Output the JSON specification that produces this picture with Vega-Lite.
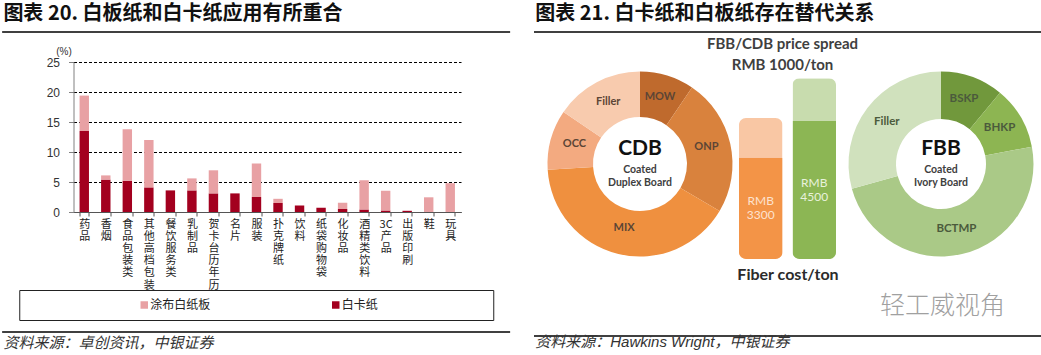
{
  "$schema": "https://vega.github.io/schema/vega-lite/v6.json",
  "padding": {"left": 1, "top": 4, "right": 0, "bottom": 0},
  "background": "white",
  "config": {
    "view": {"stroke": null},
    "font": "Noto Sans CJK SC"
  },
  "datasets": {
    "share": [
      {"cat": "药品", "type": "白卡纸", "pct": 13.5}, {"cat": "药品", "type": "涂布白纸板", "pct": 5.9},
      {"cat": "香烟", "type": "白卡纸", "pct": 5.4}, {"cat": "香烟", "type": "涂布白纸板", "pct": 0.7},
      {"cat": "食品包装类", "type": "白卡纸", "pct": 5.2}, {"cat": "食品包装类", "type": "涂布白纸板", "pct": 8.6},
      {"cat": "其他高档包装", "type": "白卡纸", "pct": 4.1}, {"cat": "其他高档包装", "type": "涂布白纸板", "pct": 7.9},
      {"cat": "餐饮服务类", "type": "白卡纸", "pct": 3.6}, {"cat": "餐饮服务类", "type": "涂布白纸板", "pct": 0},
      {"cat": "乳制品", "type": "白卡纸", "pct": 3.6}, {"cat": "乳制品", "type": "涂布白纸板", "pct": 2.0},
      {"cat": "贺卡台历年历", "type": "白卡纸", "pct": 3.1}, {"cat": "贺卡台历年历", "type": "涂布白纸板", "pct": 3.85},
      {"cat": "名片", "type": "白卡纸", "pct": 3.1}, {"cat": "名片", "type": "涂布白纸板", "pct": 0},
      {"cat": "服装", "type": "白卡纸", "pct": 2.5}, {"cat": "服装", "type": "涂布白纸板", "pct": 5.6},
      {"cat": "扑克牌纸", "type": "白卡纸", "pct": 1.5}, {"cat": "扑克牌纸", "type": "涂布白纸板", "pct": 0.7},
      {"cat": "饮料", "type": "白卡纸", "pct": 1.1}, {"cat": "饮料", "type": "涂布白纸板", "pct": 0},
      {"cat": "纸袋购物袋", "type": "白卡纸", "pct": 0.7}, {"cat": "纸袋购物袋", "type": "涂布白纸板", "pct": 0},
      {"cat": "化妆品", "type": "白卡纸", "pct": 0.5}, {"cat": "化妆品", "type": "涂布白纸板", "pct": 1.05},
      {"cat": "酒精类饮料", "type": "白卡纸", "pct": 0.4}, {"cat": "酒精类饮料", "type": "涂布白纸板", "pct": 4.9},
      {"cat": "3C产品", "type": "白卡纸", "pct": 0.25}, {"cat": "3C产品", "type": "涂布白纸板", "pct": 3.3},
      {"cat": "出版印刷", "type": "白卡纸", "pct": 0.2}, {"cat": "出版印刷", "type": "涂布白纸板", "pct": 0},
      {"cat": "鞋", "type": "白卡纸", "pct": 0}, {"cat": "鞋", "type": "涂布白纸板", "pct": 2.45},
      {"cat": "玩具", "type": "白卡纸", "pct": 0}, {"cat": "玩具", "type": "涂布白纸板", "pct": 4.8}
    ],
    "cdb": [
      {"board": "CDB", "part": "MOW", "share": 9.5, "k": 1},
      {"board": "CDB", "part": "ONP", "share": 24, "k": 2},
      {"board": "CDB", "part": "MIX", "share": 40.5, "k": 3},
      {"board": "CDB", "part": "OCC", "share": 10.5, "k": 4},
      {"board": "CDB", "part": "Filler", "share": 15.5, "k": 5}
    ],
    "fbb": [
      {"board": "FBB", "part": "BSKP", "share": 11, "k": 1},
      {"board": "FBB", "part": "BHKP", "share": 11, "k": 2},
      {"board": "FBB", "part": "BCTMP", "share": 48.7, "k": 3},
      {"board": "FBB", "part": "Filler", "share": 29.3, "k": 4}
    ],
    "boards": [
      {"board": "CDB", "desc": ["Coated", "Duplex Board"]},
      {"board": "FBB", "desc": ["Coated", "Ivory Board"]}
    ],
    "bars": [
      {"board": "CDB", "cost": 3300, "total": 4600},
      {"board": "FBB", "cost": 4500, "total": 5900}
    ]
  },
  "spacing": 22,
  "hconcat": [
    {
      "vconcat": [
        {
          "width": 508, "height": 16,
          "data": {"values": [{}]},
          "mark": {"type": "rule", "color": "#000", "strokeWidth": 1.5},
          "encoding": {"y": {"datum": 1, "type": "quantitative", "scale": {"domain": [0, 1]}, "axis": null}},
          "title": {"text": "图表 20. 白板纸和白卡纸应用有所重合", "anchor": "start", "font": "Noto Sans CJK SC", "fontSize": 20, "fontWeight": "bold", "color": "#111", "offset": 7, "dx": 2}
        },
        {
          "width": 508, "height": 150,
          "data": {"name": "share"},
          "mark": {"type": "bar"},
          "encoding": {
            "x": {
              "field": "cat", "type": "nominal",
              "scale": {
                "domain": ["药品", "香烟", "食品包装类", "其他高档包装", "餐饮服务类", "乳制品", "贺卡台历年历", "名片", "服装", "扑克牌纸", "饮料", "纸袋购物袋", "化妆品", "酒精类饮料", "3C产品", "出版印刷", "鞋", "玩具"],
                "range": [71, 458.5], "paddingInner": 0.563, "paddingOuter": 0.2815
              },
              "axis": {
                "title": null, "labelAngle": 0, "labelBaseline": "top", "labelAlign": "center",
                "labelExpr": "datum.label == '3C产品' ? ['3C', '产', '品'] : split(datum.label, '')",
                "labelFont": "Noto Sans CJK SC", "labelFontSize": 11, "labelLineHeight": 12.2, "labelColor": "#222",
                "labelPadding": 2, "tickBand": "extent", "tickSize": 4, "tickColor": "#555", "domainColor": "#555",
                "labelOverlap": false, "labelBound": false
              }
            },
            "y": {
              "field": "pct", "type": "quantitative", "stack": "zero",
              "scale": {"domain": [0, 25], "nice": false},
              "axis": {
                "values": [0, 5, 10, 15, 20, 25], "offset": -71,
                "grid": true, "gridDash": [3, 2], "gridColor": "#000", "gridWidth": 1,
                "domainColor": "#808080", "tickColor": "#808080", "tickSize": 5,
                "labelFont": "Liberation Sans", "labelFontSize": 12, "labelColor": "#333", "labelPadding": 9,
                "title": "(%)", "titleAngle": 0, "titleX": -10, "titleY": -11,
                "titleFont": "Liberation Sans", "titleFontSize": 10, "titleFontWeight": "normal", "titleColor": "#333",
                "titleAlign": "center", "titleBaseline": "middle"
              }
            },
            "color": {
              "field": "type", "type": "nominal",
              "scale": {"domain": ["涂布白纸板", "白卡纸"], "range": ["#e8a1a4", "#a3001f"]},
              "legend": null
            },
            "order": {"field": "type", "sort": "descending"}
          }
        },
        {
          "width": 474, "height": 30,
          "view": {"stroke": "#222", "strokeWidth": 1},
          "data": {"values": [{"type": "涂布白纸板"}, {"type": "白卡纸"}]},
          "encoding": {
            "x": {"field": "type", "type": "nominal", "scale": {"type": "point", "domain": ["涂布白纸板", "白卡纸"], "padding": 0.7376, "align": 0.4425}, "axis": null}
          },
          "layer": [
            {
              "mark": {"type": "square", "size": 56, "filled": true, "opacity": 1},
              "encoding": {
                "color": {"field": "type", "type": "nominal", "scale": {"domain": ["涂布白纸板", "白卡纸"], "range": ["#e8a1a4", "#a3001f"]}, "legend": null}
              }
            },
            {
              "mark": {"type": "text", "align": "left", "dx": 6, "font": "Noto Sans CJK SC", "fontSize": 12, "color": "#222"},
              "encoding": {"text": {"field": "type"}}
            }
          ]
        },
        {
          "width": 508, "height": 11,
          "data": {"values": [{}]},
          "mark": {"type": "rule", "color": "#000", "strokeWidth": 1.5},
          "encoding": {"y": {"datum": 0, "type": "quantitative", "scale": {"domain": [0, 1]}, "axis": null}},
          "title": {"text": "资料来源：卓创资讯，中银证券", "orient": "bottom", "anchor": "start", "font": "Noto Sans CJK SC", "fontSize": 15, "fontStyle": "italic", "fontWeight": "normal", "color": "#333", "offset": 3, "dx": 2}
        }
      ],
      "spacing": -2,
      "center": true
    },
    {
      "vconcat": [
        {
          "width": 509, "height": 2,
          "data": {"values": [{}]},
          "mark": {"type": "rule", "color": "#000", "strokeWidth": 1.5},
          "encoding": {"y": {"datum": 1, "type": "quantitative", "scale": {"domain": [0, 1]}, "axis": null}},
          "title": {"text": "图表 21. 白卡纸和白板纸存在替代关系", "anchor": "start", "font": "Noto Sans CJK SC", "fontSize": 20, "fontWeight": "bold", "color": "#111", "offset": 7, "dx": 2}
        },
        {
          "width": 509, "height": 190,
          "title": {"text": ["FBB/CDB price spread", "RMB 1000/ton"], "anchor": "middle", "font": "Lato", "fontSize": 15, "fontWeight": "bold", "color": "#3f3f3f", "lineHeight": 21, "offset": -4, "dx": -6},
          "layer": [
            {
              "layer": [
                {
                  "data": {"name": "cdb"},
                  "mark": {"type": "arc", "innerRadius": 47, "outerRadius": 92.5},
                  "encoding": {
                    "x": {"field": "board", "type": "nominal", "scale": {"type": "point", "domain": ["CDB", "FBB"], "padding": 0.3455, "align": 0.5096},
                      "axis": {"orient": "bottom", "labels": false, "ticks": false, "domain": false, "title": "轻工威视角", "titleFont": "Noto Sans CJK SC", "titleFontSize": 25, "titleFontWeight": 300, "titleColor": "#a0a0a0", "titleX": 408, "titleY": 46, "titleAlign": "center", "titleBaseline": "middle", "titleAngle": 0}},
                    "theta": {"field": "share", "type": "quantitative", "stack": true, "scale": {"domain": [0, 100]}},
                    "order": {"field": "k", "type": "quantitative"},
                    "color": {"field": "part", "type": "nominal", "scale": {"domain": ["MOW", "ONP", "MIX", "OCC", "Filler"], "range": ["#bf6a2d", "#d9823d", "#ef903f", "#f3aa80", "#f8cbae"]}, "legend": null}
                  }
                },
                {
                  "data": {"name": "fbb"},
                  "mark": {"type": "arc", "innerRadius": 45, "outerRadius": 92.5},
                  "encoding": {
                    "x": {"field": "board", "type": "nominal", "scale": {"type": "point", "domain": ["CDB", "FBB"], "padding": 0.3455, "align": 0.5096},
                      "axis": {"orient": "bottom", "labels": false, "ticks": false, "domain": false, "title": "轻工威视角", "titleFont": "Noto Sans CJK SC", "titleFontSize": 25, "titleFontWeight": 300, "titleColor": "#a0a0a0", "titleX": 408, "titleY": 46, "titleAlign": "center", "titleBaseline": "middle", "titleAngle": 0}},
                    "theta": {"field": "share", "type": "quantitative", "stack": true, "scale": {"domain": [0, 100]}},
                    "order": {"field": "k", "type": "quantitative"},
                    "color": {"field": "part", "type": "nominal", "scale": {"domain": ["BSKP", "BHKP", "BCTMP", "Filler"], "range": ["#71983c", "#8db552", "#aac987", "#d0e1bd"]}, "legend": null}
                  }
                },
                {
                  "data": {"name": "cdb"},
                  "mark": {"type": "text", "radius": 68, "font": "Lato", "fontSize": 11, "fontWeight": "bold", "color": "#5c4535", "dy": -2},
                  "encoding": {
                    "x": {"field": "board", "type": "nominal", "scale": {"type": "point", "domain": ["CDB", "FBB"], "padding": 0.3455, "align": 0.5096},
                      "axis": {"orient": "bottom", "labels": false, "ticks": false, "domain": false, "title": "轻工威视角", "titleFont": "Noto Sans CJK SC", "titleFontSize": 25, "titleFontWeight": 300, "titleColor": "#a0a0a0", "titleX": 408, "titleY": 46, "titleAlign": "center", "titleBaseline": "middle", "titleAngle": 0}},
                    "theta": {"field": "share", "type": "quantitative", "stack": true, "scale": {"domain": [0, 100]}},
                    "order": {"field": "k", "type": "quantitative"},
                    "text": {"field": "part"}
                  }
                },
                {
                  "data": {"name": "fbb"},
                  "mark": {"type": "text", "radius": 68, "font": "Lato", "fontSize": 11.5, "fontWeight": "bold", "color": "#4b5a3c", "dy": -1},
                  "encoding": {
                    "x": {"field": "board", "type": "nominal", "scale": {"type": "point", "domain": ["CDB", "FBB"], "padding": 0.3455, "align": 0.5096},
                      "axis": {"orient": "bottom", "labels": false, "ticks": false, "domain": false, "title": "轻工威视角", "titleFont": "Noto Sans CJK SC", "titleFontSize": 25, "titleFontWeight": 300, "titleColor": "#a0a0a0", "titleX": 408, "titleY": 46, "titleAlign": "center", "titleBaseline": "middle", "titleAngle": 0}},
                    "theta": {"field": "share", "type": "quantitative", "stack": true, "scale": {"domain": [0, 100]}},
                    "order": {"field": "k", "type": "quantitative"},
                    "text": {"field": "part"}
                  }
                },
                {
                  "data": {"name": "boards"},
                  "mark": {"type": "text", "dy": -15, "font": "Lato", "fontSize": 21, "fontWeight": "bold", "color": "#111"},
                  "encoding": {
                    "x": {"field": "board", "type": "nominal", "scale": {"type": "point", "domain": ["CDB", "FBB"], "padding": 0.3455, "align": 0.5096},
                      "axis": {"orient": "bottom", "labels": false, "ticks": false, "domain": false, "title": "轻工威视角", "titleFont": "Noto Sans CJK SC", "titleFontSize": 25, "titleFontWeight": 300, "titleColor": "#a0a0a0", "titleX": 408, "titleY": 46, "titleAlign": "center", "titleBaseline": "middle", "titleAngle": 0}},
                    "text": {"field": "board"}
                  }
                },
                {
                  "data": {"name": "boards"},
                  "mark": {"type": "text", "dy": 6, "lineHeight": 13, "font": "Lato", "fontSize": 10.5, "fontWeight": "bold", "color": "#404040"},
                  "encoding": {
                    "x": {"field": "board", "type": "nominal", "scale": {"type": "point", "domain": ["CDB", "FBB"], "padding": 0.3455, "align": 0.5096},
                      "axis": {"orient": "bottom", "labels": false, "ticks": false, "domain": false, "title": "轻工威视角", "titleFont": "Noto Sans CJK SC", "titleFontSize": 25, "titleFontWeight": 300, "titleColor": "#a0a0a0", "titleX": 408, "titleY": 46, "titleAlign": "center", "titleBaseline": "middle", "titleAngle": 0}},
                    "text": {"field": "desc"}
                  }
                }
              ],
              "resolve": {"scale": {"color": "independent"}}
            },
            {
              "data": {"name": "bars"},
              "layer": [
                {
                  "mark": {"type": "bar", "cornerRadius": 7},
                  "encoding": {
                    "x": {"field": "board", "type": "nominal", "scale": {"type": "band", "domain": ["CDB", "FBB"], "range": [205, 302], "paddingInner": 0.187, "paddingOuter": 0},
                      "axis": {"orient": "bottom", "labels": false, "ticks": false, "domain": false, "title": "Fiber cost/ton", "titleFont": "Lato", "titleFontSize": 16, "titleFontWeight": "bold", "titleColor": "#2b2b2b", "titlePadding": 7}},
                    "y": {"field": "total", "type": "quantitative", "scale": {"domain": [0, 6200], "nice": false}, "axis": null},
                    "color": {"field": "board", "type": "nominal", "scale": {"domain": ["CDB", "FBB"], "range": ["#f9c7a4", "#c8dcae"]}, "legend": null}
                  }
                },
                {
                  "mark": {"type": "bar", "cornerRadiusBottomLeft": 7, "cornerRadiusBottomRight": 7},
                  "encoding": {
                    "x": {"field": "board", "type": "nominal", "scale": {"type": "band", "domain": ["CDB", "FBB"], "range": [205, 302], "paddingInner": 0.187, "paddingOuter": 0},
                      "axis": {"orient": "bottom", "labels": false, "ticks": false, "domain": false, "title": "Fiber cost/ton", "titleFont": "Lato", "titleFontSize": 16, "titleFontWeight": "bold", "titleColor": "#2b2b2b", "titlePadding": 7}},
                    "y": {"field": "cost", "type": "quantitative", "scale": {"domain": [0, 6200], "nice": false}, "axis": null},
                    "color": {"field": "board", "type": "nominal", "scale": {"domain": ["CDB", "FBB"], "range": ["#f39447", "#8cb654"]}, "legend": null}
                  }
                }
              ],
              "resolve": {"scale": {"color": "independent"}}
            },
            {
              "data": {"name": "bars"},
              "encoding": {
                "x": {"field": "board", "type": "nominal", "scale": {"type": "band", "domain": ["CDB", "FBB"], "range": [205, 302], "paddingInner": 0.187, "paddingOuter": 0}, "axis": null},
                "y": {"field": "cost", "type": "quantitative", "scale": {"domain": [0, 12400], "nice": false}, "axis": null},
                "color": {"field": "board", "type": "nominal", "scale": {"domain": ["CDB", "FBB"], "range": ["#fde2cf", "#e8f2dc"]}, "legend": null}
              },
              "layer": [
                {"mark": {"type": "text", "dy": -7, "font": "Lato", "fontSize": 12}, "encoding": {"text": {"value": "RMB"}}},
                {"mark": {"type": "text", "dy": 7, "font": "Lato", "fontSize": 12}, "encoding": {"text": {"field": "cost", "type": "quantitative", "format": "d"}}}
              ]
            }
          ],
          "resolve": {"scale": {"x": "independent", "y": "independent", "color": "independent"}, "axis": {"x": "independent"}}
        },
        {
          "width": 509, "height": 15,
          "data": {"values": [{}]},
          "mark": {"type": "rule", "color": "#000", "strokeWidth": 1.5},
          "encoding": {"y": {"datum": 0, "type": "quantitative", "scale": {"domain": [0, 1]}, "axis": null}},
          "title": {"text": "资料来源：Hawkins Wright，中银证券", "orient": "bottom", "anchor": "start", "font": "Liberation Sans, Noto Sans CJK SC", "fontSize": 15, "fontStyle": "italic", "fontWeight": "normal", "color": "#333", "offset": -2, "dx": 2}
        }
      ],
      "spacing": 3
    }
  ]
}
